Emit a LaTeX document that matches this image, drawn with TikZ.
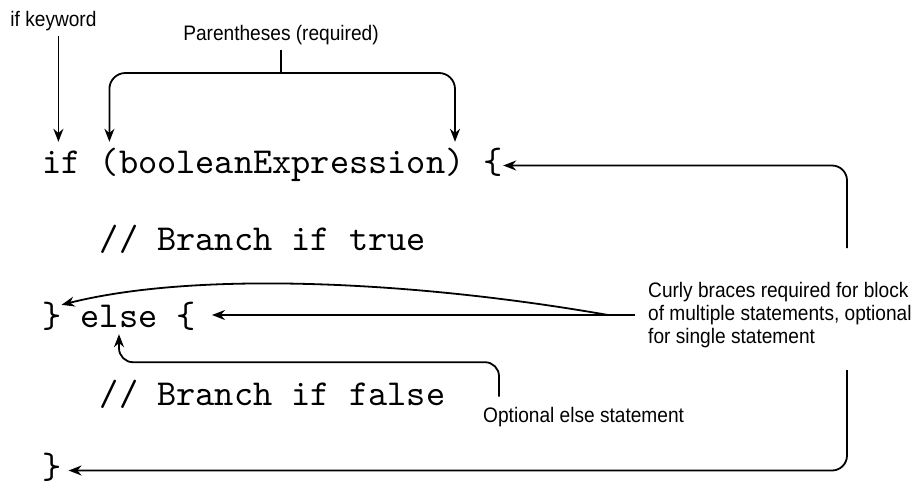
\documentclass[tikz,border=0pt]{standalone}
\usepackage{fontspec}
\usetikzlibrary{arrows.meta, calc}
\newfontfamily\lblfont{Liberation Sans}[FakeStretch=0.91]
\newfontfamily\codefont{lmmono10-regular.otf}

\tikzset{
  code/.style={font={\codefont\fontsize{36.57}{36.57}\selectfont}, inner sep=0pt,
    anchor=base west, text height=22pt, text depth=7pt},
  lbl/.style={font={\lblfont\fontsize{21}{23}\selectfont}, inner sep=0pt},
  plain/.style={line width=1.8pt},
  arr/.style={plain, -{Stealth[length=13pt,width=10pt]}},
  arrboth/.style={plain, {Stealth[length=13pt,width=10pt]}-{Stealth[length=13pt,width=10pt]}}
}

\begin{document}
\begin{tikzpicture}[x=1pt,y=-1pt]
  \useasboundingbox (0,0) rectangle (917,485);

  % code lines
  \node[code] (kwif) at (42,173) {if};
  \node[code] (lpar) at (99.6,173) {(};
  \node[code] (bexpr) at (118.8,173) {booleanExpression};
  \node[code] (rpar) at (445.2,173) {)};
  \node[code] (lb1) at (483.6,173) {\{};
  \node[code] (cmt1) at (99.6,250) {// Branch if true};
  \node[code] (rb1) at (42,327) {\}};
  \node[code] (kwelse) at (80.4,327) {else};
  \node[code] (lb2) at (176.4,327) {\{};
  \node[code] (cmt2) at (99.6,405) {// Branch if false};
  \node[code] (rb2) at (42,478) {\}};

  % labels
  \node[lbl, anchor=base] (kwlbl) at (53.5,26) {if keyword};
  \node[lbl, anchor=base] (parlbl) at (281,40) {Parentheses (required)};
  \node[lbl, anchor=north west, align=left, inner xsep=13pt] (crlbl) at (635,282)
    {Curly braces required for block\\of multiple statements, optional\\for single statement};
  \node[lbl, anchor=base west] (optlbl) at (483,422) {Optional else statement};

  \coordinate (brk) at (parlbl.south |- 0,73);
  \coordinate (jn) at ([xshift=-27pt]crlbl.west);
  \coordinate (up) at (847,248);
  \coordinate (dn) at (847,370);

  % connectors
  \draw[arr] ([xshift=-3pt]kwif.north |- kwlbl.south) ++(0,5) -- ([xshift=-3pt,yshift=9pt]kwif.north);
  \draw[plain] ([yshift=-5pt]parlbl.south) -- (brk);
  \draw[arrboth, rounded corners=16pt] ([yshift=9pt]lpar.north) |- (brk) -| ([yshift=9pt]rpar.north);
  \draw[arr, rounded corners=15pt] (up) |- (lb1.east);
  \draw[plain] (crlbl.west) -- (jn);
  \draw[arr] (jn) -- ([xshift=16pt]jn -| lb2.east);
  \draw[arr] (jn) .. controls (420,282) and (200,270) .. (rb1.north east);
  \draw[arr, rounded corners=14pt] ([xshift=16pt,yshift=10pt]optlbl.north west) |- ([yshift=-28pt]kwelse.south) -- (kwelse.south);
  \draw[arr, rounded corners=15pt] (dn) |- ([xshift=7pt]rb2.east);
\end{tikzpicture}
\end{document}
